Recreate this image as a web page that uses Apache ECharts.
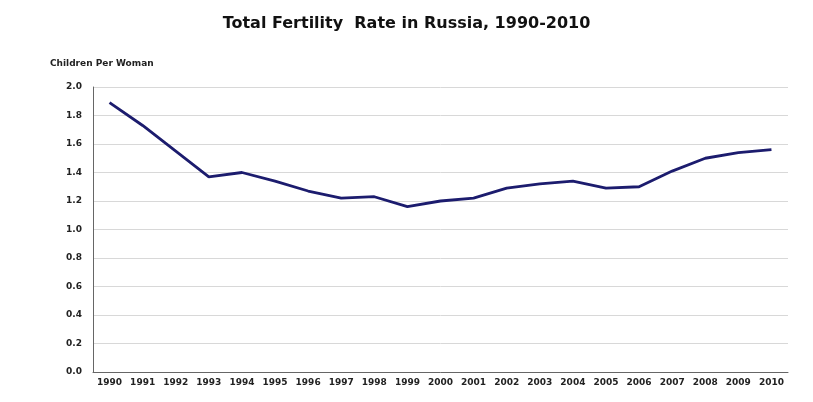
<!DOCTYPE html>
<html>
<head>
<meta charset="utf-8">
<script src="https://cdn.jsdelivr.net/npm/echarts@6/dist/echarts.min.js"></script>
<style>
  html, body { margin: 0; padding: 0; background: #fff; }
  #chart { width: 813px; height: 402px; }
</style>
</head>
<body>
<div id="chart"></div>
<script>
var years = ['1990', '1991', '1992', '1993', '1994', '1995', '1996', '1997', '1998', '1999', '2000',
             '2001', '2002', '2003', '2004', '2005', '2006', '2007', '2008', '2009', '2010'];
var fertility = [1.89, 1.73, 1.55, 1.37, 1.40, 1.34, 1.27, 1.22, 1.23, 1.16, 1.20,
                 1.22, 1.29, 1.32, 1.34, 1.29, 1.30, 1.41, 1.50, 1.54, 1.56];

var myChart = echarts.init(document.getElementById('chart'));
var option = {
    backgroundColor: '#fff',
    animation: false,
    title: {
        text: 'Total Fertility  Rate in Russia, 1990-2010',
        left: 'center',
        top: 11,
        textStyle: {
            fontFamily: 'DejaVu Sans',
            fontSize: 16,
            fontWeight: 'bold',
            color: '#111'
        }
    },
    graphic: [{
        type: 'text',
        left: 50,
        top: 59,
        style: {
            text: 'Children Per Woman',
            font: 'bold 9px "DejaVu Sans"',
            fill: '#222'
        }
    }],
    grid: {
        left: 93,
        right: 25,
        top: 87,
        bottom: 30
    },
    xAxis: {
        type: 'category',
        data: years,
        boundaryGap: true,
        axisLine: { lineStyle: { color: '#666', width: 1 } },
        axisTick: { show: false },
        axisLabel: {
            fontFamily: 'DejaVu Sans',
            fontSize: 9,
            fontWeight: 'bold',
            color: '#222',
            margin: 6,
            interval: 0
        }
    },
    yAxis: {
        type: 'value',
        min: 0,
        max: 2,
        interval: 0.2,
        axisLine: { show: true, lineStyle: { color: '#666', width: 1 } },
        axisTick: { show: false },
        axisLabel: {
            fontFamily: 'DejaVu Sans',
            fontSize: 9,
            fontWeight: 'bold',
            color: '#222',
            margin: 11,
            formatter: function (v) { return v.toFixed(1); }
        },
        splitLine: { lineStyle: { color: '#d8d8d8', width: 1 } }
    },
    series: [{
        type: 'line',
        data: fertility,
        symbol: 'none',
        lineStyle: { color: '#1c1c6e', width: 2.8 }
    }]
};
myChart.setOption(option);
</script>
</body>
</html>
